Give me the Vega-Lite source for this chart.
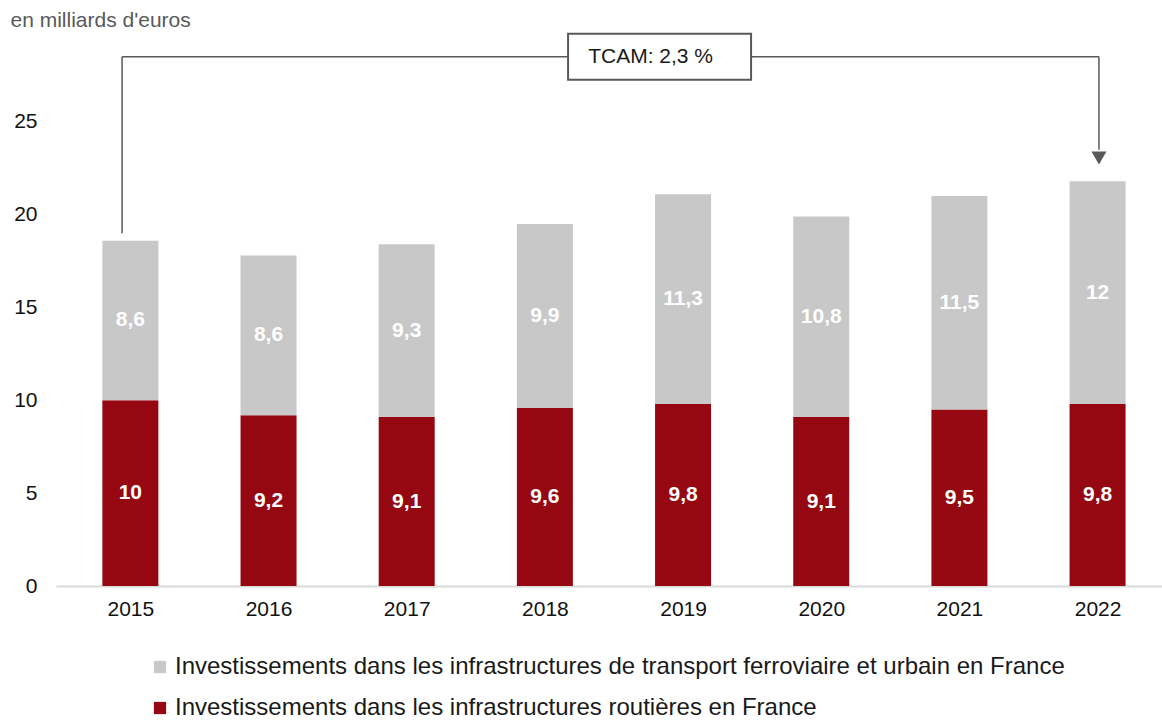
{
  "$schema": "https://vega.github.io/schema/vega-lite/v6.json",
  "autosize": {"type": "none"},
  "width": 1106,
  "height": 557,
  "padding": {"left": 56, "top": 29, "right": 0, "bottom": 134},
  "background": "white",
  "config": {
    "view": {"stroke": null},
    "font": "Liberation Sans",
    "locale": {"number": {"decimal": ",", "thousands": " ", "grouping": [3], "currency": ["", " €"]}}
  },
  "datasets": {
    "invest": [
      {"annee": 2015, "serie": "Investissements dans les infrastructures routières en France", "valeur": 10},
      {"annee": 2016, "serie": "Investissements dans les infrastructures routières en France", "valeur": 9.2},
      {"annee": 2017, "serie": "Investissements dans les infrastructures routières en France", "valeur": 9.1},
      {"annee": 2018, "serie": "Investissements dans les infrastructures routières en France", "valeur": 9.6},
      {"annee": 2019, "serie": "Investissements dans les infrastructures routières en France", "valeur": 9.8},
      {"annee": 2020, "serie": "Investissements dans les infrastructures routières en France", "valeur": 9.1},
      {"annee": 2021, "serie": "Investissements dans les infrastructures routières en France", "valeur": 9.5},
      {"annee": 2022, "serie": "Investissements dans les infrastructures routières en France", "valeur": 9.8},
      {"annee": 2015, "serie": "Investissements dans les infrastructures de transport ferroviaire et urbain en France", "valeur": 8.6},
      {"annee": 2016, "serie": "Investissements dans les infrastructures de transport ferroviaire et urbain en France", "valeur": 8.6},
      {"annee": 2017, "serie": "Investissements dans les infrastructures de transport ferroviaire et urbain en France", "valeur": 9.3},
      {"annee": 2018, "serie": "Investissements dans les infrastructures de transport ferroviaire et urbain en France", "valeur": 9.9},
      {"annee": 2019, "serie": "Investissements dans les infrastructures de transport ferroviaire et urbain en France", "valeur": 11.3},
      {"annee": 2020, "serie": "Investissements dans les infrastructures de transport ferroviaire et urbain en France", "valeur": 10.8},
      {"annee": 2021, "serie": "Investissements dans les infrastructures de transport ferroviaire et urbain en France", "valeur": 11.5},
      {"annee": 2022, "serie": "Investissements dans les infrastructures de transport ferroviaire et urbain en France", "valeur": 12}
    ],
    "connecteur": [
      {"x": 2014.94, "y": 19.0, "x2": 2014.94, "y2": 28.5},
      {"x": 2014.94, "y": 28.5, "x2": 2022.01, "y2": 28.5},
      {"x": 2022.01, "y": 28.5, "x2": 2022.01, "y2": 23.5}
    ],
    "tcam": [{"x": 2018.83, "y": 28.5, "label": "TCAM: 2,3 %"}],
    "fleche": [{"x": 2022.01, "y": 23.05}]
  },
  "layer": [
    {
      "data": {"name": "invest"},
      "mark": {"type": "bar", "width": 56},
      "encoding": {
        "x": {
          "field": "annee", "type": "quantitative",
          "scale": {"domain": [2014.498, 2022.43], "nice": false, "zero": false},
          "axis": {
            "title": null, "values": [2015, 2016, 2017, 2018, 2019, 2020, 2021, 2022],
            "format": "d", "ticks": false, "grid": false,
            "domainColor": "#d9d9d9", "domainWidth": 2,
            "labelFontSize": 21, "labelColor": "#111111", "labelPadding": 12,
            "labelFlush": false
          }
        },
        "y": {
          "field": "valeur", "type": "quantitative", "stack": "zero",
          "scale": {"domain": [0, 30], "nice": false},
          "axis": {
            "title": "en milliards d'euros", "titleAngle": 0, "titleAlign": "left",
            "titleBaseline": "middle", "titleX": -46, "titleY": -9,
            "titleFontSize": 21, "titleFontWeight": "normal", "titleColor": "#595959",
            "values": [0, 5, 10, 15, 20, 25], "domain": false, "ticks": false, "grid": false,
            "labelFontSize": 21, "labelColor": "#111111", "labelPadding": 19
          }
        },
        "color": {
          "field": "serie", "type": "nominal",
          "scale": {
            "domain": [
              "Investissements dans les infrastructures de transport ferroviaire et urbain en France",
              "Investissements dans les infrastructures routières en France"
            ],
            "range": ["#c8c8c8", "#950811"]
          },
          "legend": {
            "title": null, "orient": "none", "legendX": 92, "legendY": 626,
            "direction": "vertical", "symbolType": "square", "symbolSize": 150,
            "symbolStrokeWidth": 0, "labelFontSize": 24, "labelColor": "#1a1a1a",
            "labelLimit": 1000, "rowPadding": 17, "labelOffset": 3, "padding": 0
          }
        },
        "order": {"field": "serie", "sort": "descending"}
      }
    },
    {
      "data": {"name": "invest"},
      "mark": {"type": "text", "color": "white", "fontSize": 21, "fontWeight": "bold", "baseline": "middle"},
      "encoding": {
        "x": {"field": "annee", "type": "quantitative"},
        "y": {"field": "valeur", "type": "quantitative", "stack": "zero", "bandPosition": 0.5},
        "text": {"field": "valeur", "type": "quantitative", "format": ".1~f"},
        "order": {"field": "serie", "sort": "descending"}
      }
    },
    {
      "data": {"name": "connecteur"},
      "mark": {"type": "rule", "color": "#595959", "strokeWidth": 1.5},
      "encoding": {
        "x": {"field": "x", "type": "quantitative"},
        "y": {"field": "y", "type": "quantitative"},
        "x2": {"field": "x2"},
        "y2": {"field": "y2"}
      }
    },
    {
      "data": {"name": "tcam"},
      "mark": {
        "type": "point", "shape": "M-1,-0.2514H1V0.2514H-1Z", "size": 33489,
        "filled": true, "fill": "white", "fillOpacity": 1, "stroke": "#595959", "strokeWidth": 2, "opacity": 1
      },
      "encoding": {
        "x": {"field": "x", "type": "quantitative"},
        "y": {"field": "y", "type": "quantitative"}
      }
    },
    {
      "data": {"name": "tcam"},
      "mark": {"type": "text", "fontSize": 21, "color": "#1a1a1a", "baseline": "middle", "dx": -9},
      "encoding": {
        "x": {"field": "x", "type": "quantitative"},
        "y": {"field": "y", "type": "quantitative"},
        "text": {"field": "label"}
      }
    },
    {
      "data": {"name": "fleche"},
      "mark": {"type": "point", "shape": "triangle-down", "size": 225, "filled": true, "color": "#595959", "opacity": 1},
      "encoding": {
        "x": {"field": "x", "type": "quantitative"},
        "y": {"field": "y", "type": "quantitative"}
      }
    }
  ]
}
